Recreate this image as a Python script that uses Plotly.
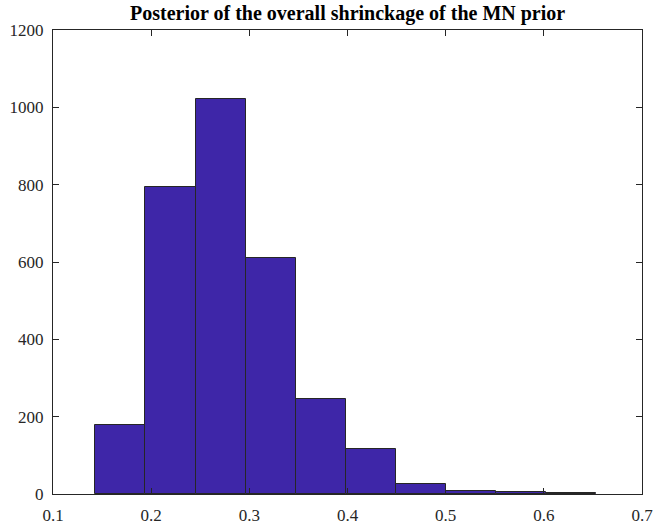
import plotly.graph_objects as go

# Histogram data
bin_edges = [0.1432, 0.1942, 0.2452, 0.2962, 0.3472, 0.3982, 0.4492, 0.5002, 0.5512, 0.6022, 0.6532]
counts = [178, 793, 1021, 610, 246, 116, 25, 8, 5, 3]

x_ticks = [0.1, 0.2, 0.3, 0.4, 0.5, 0.6, 0.7]
y_ticks = [0, 200, 400, 600, 800, 1000, 1200]

centers = [(bin_edges[i] + bin_edges[i + 1]) / 2 for i in range(len(counts))]
widths = [bin_edges[i + 1] - bin_edges[i] for i in range(len(counts))]

SERIF = "Liberation Serif, Times New Roman, serif"

fig = go.Figure()
fig.add_trace(go.Bar(
    x=centers, y=counts, width=widths,
    marker=dict(color="rgb(62,38,168)", line=dict(color="#262626", width=1)),
    showlegend=False,
))

axis_common = dict(
    showgrid=False, zeroline=False, showline=True, linecolor="#262626", linewidth=1,
    mirror="ticks", ticks="inside", ticklen=6, tickcolor="#262626", tickwidth=1,
    tickfont=dict(family=SERIF, size=17, color="#262626"), automargin=False,
)

fig.update_layout(
    template="none",
    width=654, height=527,
    margin=dict(l=53, r=12, t=30, b=33),
    paper_bgcolor="white", plot_bgcolor="white",
    font=dict(family=SERIF, size=17, color="#262626"),
    title=dict(
        text="<b>Posterior of the overall shrinckage of the MN prior</b>",
        font=dict(family=SERIF, size=20, color="black"),
        x=0.5315, xanchor="center", y=0.975, yanchor="middle",
    ),
    bargap=0,
)
fig.update_xaxes(range=[0.1, 0.7], tickvals=x_ticks, ticktext=[f"{v:g}" for v in x_ticks],
                 ticklabelstandoff=6, **axis_common)
fig.update_yaxes(range=[0, 1200], tickvals=y_ticks, ticktext=[str(v) for v in y_ticks],
                 ticklabelstandoff=5, **axis_common)

fig.write_html("out.html")
